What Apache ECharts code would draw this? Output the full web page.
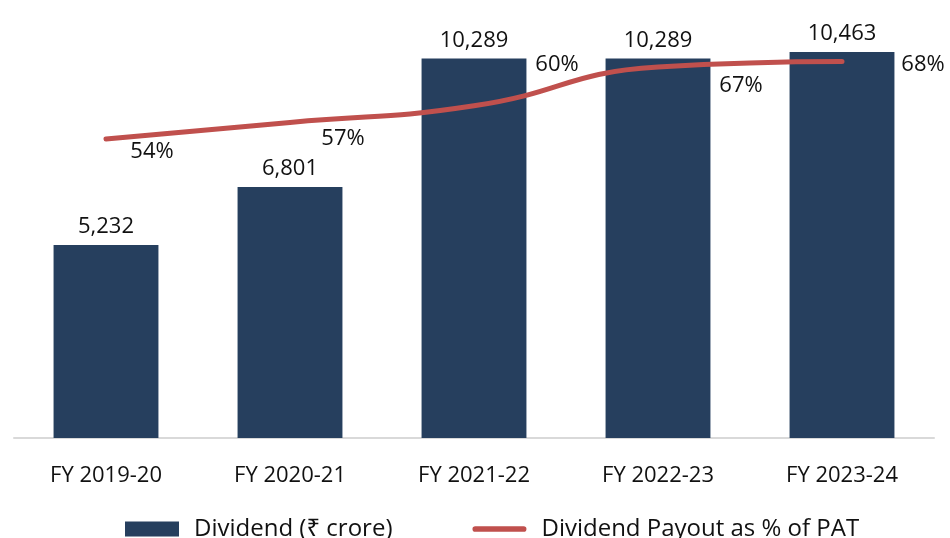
<!DOCTYPE html>
<html><head><meta charset="utf-8">
<script src="https://cdn.jsdelivr.net/npm/echarts@6/dist/echarts.min.js"></script>
<style>html,body{margin:0;padding:0;background:#fff}#c{width:950px;height:538px}</style>
</head><body><div id="c"></div>
<script>
const categories = ['FY 2019-20','FY 2020-21','FY 2021-22','FY 2022-23','FY 2023-24'];
const dividend = [5232, 6801, 10289, 10289, 10463];
const payout = [54, 57, 60, 67, 68];
const payoutLabelOffsets = [[46,13],[53,16],[83,-41],[83,19],[81,3]];
const FONT = '"Open Sans", "Noto Sans", sans-serif';

const chart = echarts.init(document.getElementById('c'));
chart.setOption({
  animation:false,
  textStyle:{fontFamily:FONT},
  grid:{left:14,right:16,top:20,bottom:100},
  legend:{
    top:512, left:120, itemWidth:54, itemHeight:15, itemGap:80,
    textStyle:{fontFamily:FONT,fontSize:24,color:'#111',padding:[0,0,0,10]},
    data:[
      {name:'Dividend (₹ crore)', icon:'rect'},
      {name:'Dividend Payout as % of PAT', icon:'path://M3,0 L54,0 A3,3 0 0 1 54,6 L3,6 A3,3 0 0 1 3,0 Z'}
    ]
  },
  xAxis:{
    type:'category', data:categories,
    axisLine:{lineStyle:{color:'#d9d9d9',width:2}},
    axisTick:{show:false},
    axisLabel:{fontFamily:FONT,fontSize:22,color:'#111',margin:27}
  },
  yAxis:[
    {type:'value',min:0,max:11330,show:false,splitLine:{show:false}},
    {type:'value',min:0,max:75.5,show:false,splitLine:{show:false}}
  ],
  series:[
    {
      name:'Dividend (₹ crore)', type:'bar', data:dividend, barWidth:'57%',
      itemStyle:{color:'#263F5E'},
      label:{show:true,position:'top',distance:7,fontFamily:FONT,fontSize:22,color:'#111',
        formatter:p=>p.value.toLocaleString('en-US')}
    },
    {
      name:'Dividend Payout as % of PAT', type:'line', yAxisIndex:1, smooth:0.5,
      data:payout.map((v,i)=>({value:v,label:{offset:payoutLabelOffsets[i]}})),
      symbol:'circle', symbolSize:1, showSymbol:true,
      lineStyle:{color:'#C0504D',width:5,cap:'round'},
      itemStyle:{color:'#C0504D'},
      label:{show:true,position:'inside',fontFamily:FONT,fontSize:22,color:'#111',formatter:'{c}%'}
    }
  ]
});
</script></body></html>
